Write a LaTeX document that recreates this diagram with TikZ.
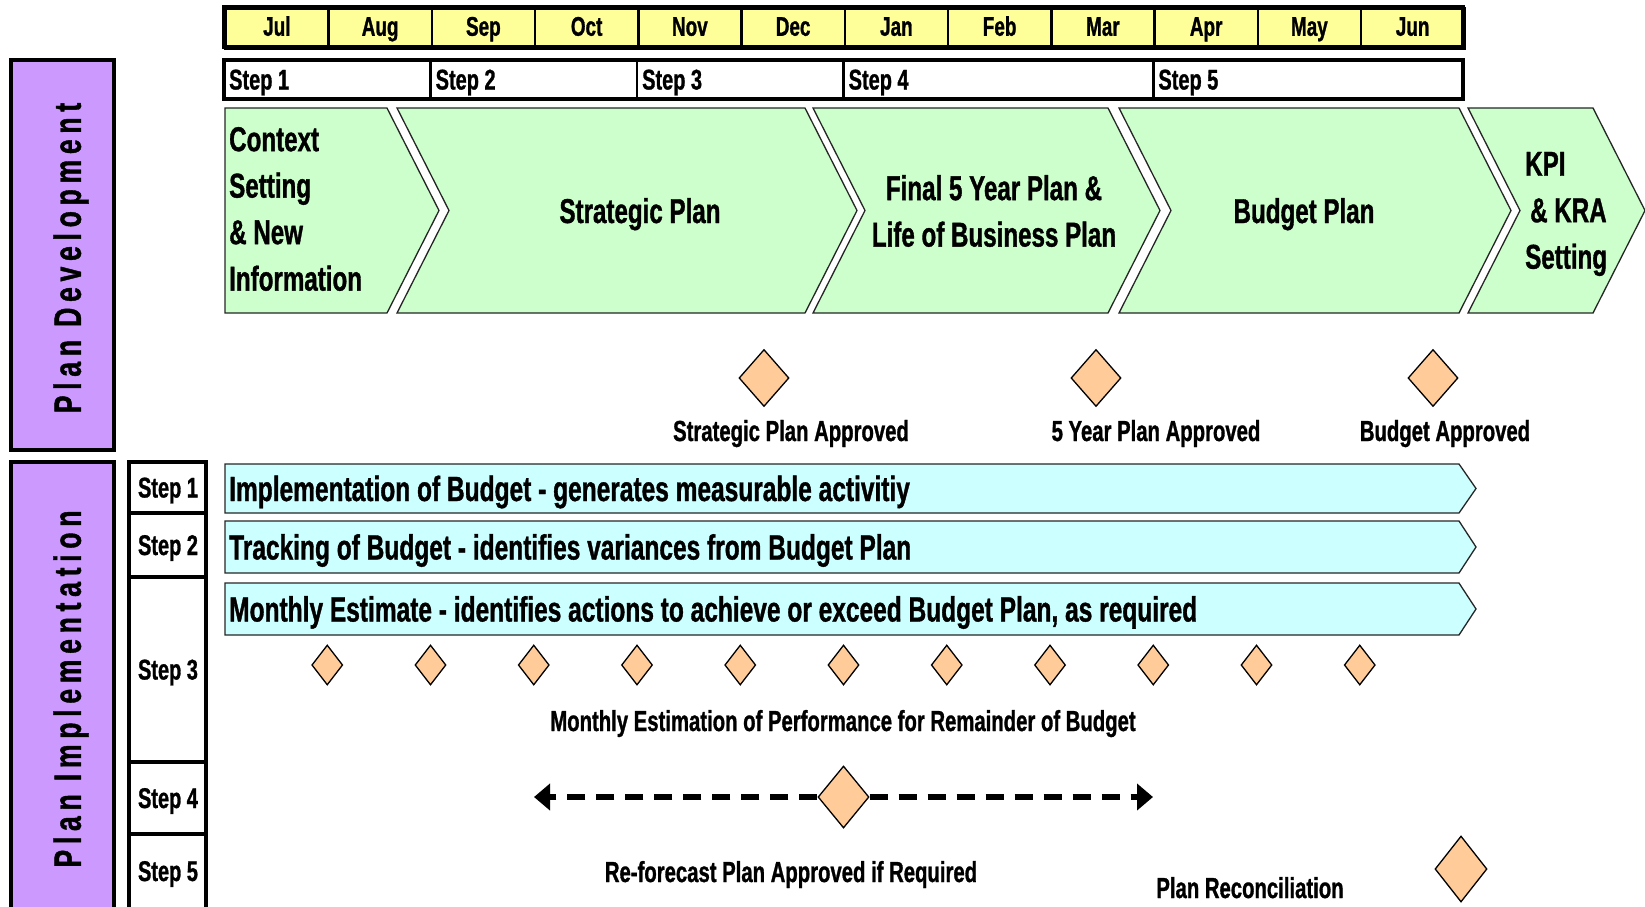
\documentclass[tikz,border=0pt]{standalone}
\usepackage{fontspec}
\setmainfont{Liberation Sans}[FakeStretch=0.7,BoldFeatures={FakeBold=1}]
\newfontfamily\sidefont{Liberation Sans}[FakeStretch=0.7,LetterSpace=15,BoldFeatures={FakeBold=1}]
\usetikzlibrary{arrows.meta,positioning,shapes.geometric,calc}
\definecolor{monthyellow}{HTML}{FFFF99}
\definecolor{chevgreen}{HTML}{CCFFCC}
\definecolor{barcyan}{HTML}{CCFFFF}
\definecolor{sidepurple}{HTML}{CC99FF}
\definecolor{gemorange}{HTML}{FFCC99}
\newcommand{\Fsize}[2]{\fontsize{#1}{#2}\selectfont\bfseries}

\begin{document}
\begin{tikzpicture}[x=1pt, y=-1pt,
    cell/.style={draw, line width=2.5pt, inner sep=0pt, anchor=north west,
      minimum width=103.25pt, minimum height=40pt, text height=15pt, text depth=0pt,
      font=\Fsize{27}{32}},
    sidebox/.style={draw, line width=3.5pt, fill=sidepurple},
    sidetext/.style={rotate=90, inner sep=0pt, font=\sidefont\Fsize{38}{40}},
    chevron/.style={draw=black!85, line width=1.3pt, fill=chevgreen},
    chevtext/.style={inner sep=0pt, align=left, font=\Fsize{34.5}{46.5}},
    bar/.style={draw=black!85, line width=1.3pt, fill=barcyan},
    bartext/.style={anchor=west, inner sep=0pt, text height=25pt, text depth=0pt,
      font=\Fsize{35}{40}},
    steptext/.style={inner sep=0pt, text height=20pt, text depth=0pt, font=\Fsize{28.5}{32}},
    gem/.style={diamond, draw, line width=1.3pt, fill=gemorange, inner sep=0pt},
    tinygem/.style={gem, minimum width=31pt, minimum height=40pt},
    biggem/.style={gem, minimum width=50pt, minimum height=57pt},
    note/.style={anchor=base, inner sep=0pt, font=\Fsize{29}{32}},
    dashlink/.style={line width=5.5pt, dash pattern=on 18pt off 11pt,
      -{Triangle[length=16pt,width=26pt]}}]
  \useasboundingbox (0,0) rectangle (1645,906);

  % months
  \foreach \m [count=\i from 0] in {Jul,Aug,Sep,Oct,Nov,Dec,Jan,Feb,Mar,Apr,May,Jun}
    \node[cell, fill=monthyellow] (month\i) at ({224+103.25*\i},7) {\m};
  \draw[line width=4pt] (224,7) rectangle (1463,47);

  % steps of plan development
  \foreach \a/\b/\st in {0/2/1,2/4/2,4/6/3,6/9/4,9/12/5} {
    \draw[line width=2.5pt] ({224+103.25*\a},60) rectangle ({224+103.25*\b},99);
    \node[steptext, anchor=west] (devStep\st) at ({229+103.25*\a},79.5) {Step \st};
  }
  \draw[line width=4pt] (224,60) rectangle (1463,99);

  % side panels
  \draw[sidebox] (11,60) rectangle (114,450);
  \draw[sidebox] (11,462) rectangle (114,930);
  \node[sidetext] (devTitle) at (71,258) {Plan Development};
  \node[sidetext] (impTitle) at (71,689) {Plan Implementation};

  % chevrons
  \draw[chevron] (225,108) -- (387,108) -- (439,210.5) -- (387,313) -- (225,313) -- cycle;
  \foreach \l/\r in {397/805,813/1108,1119/1459,1468/1593}
    \draw[chevron] (\l,108) -- (\r,108) -- ({\r+52},210.5) -- (\r,313) -- (\l,313)
      -- ({\l+52},210.5) -- cycle;
  \node[chevtext, anchor=west] (context) at (229,209) {Context\\Setting\\\& New\\Information};
  \node[chevtext, anchor=base] (strategic) at (640,223) {Strategic Plan};
  \node[chevtext, align=center] (fiveYear) at (994,211) {Final 5 Year Plan \&\\Life of Business Plan};
  \node[chevtext, anchor=base] (budgetPlan) at (1304,223) {Budget Plan};
  \node[chevtext, anchor=west] (kpi) at (1525,214) {KPI\\\hspace{5pt}\& KRA\\Setting};

  % approvals
  \node[biggem] (okStrategic) at (764,378) {};
  \node[biggem] (okFiveYear) at (1096,378) {};
  \node[biggem] (okBudget) at (1433,378) {};
  \node[note] (okStrategicText) at (791,441) {Strategic Plan Approved};
  \node[note] (okFiveYearText) at (1156,441) {5 Year Plan Approved};
  \node[note] (okBudgetText) at (1445,441) {Budget Approved};

  % steps of plan implementation
  \foreach \t/\b in {462/513,513/577,577/762,762/834,834/930}
    \draw[line width=3.5pt] (129,\t) rectangle (206,\b);
  \foreach \y [count=\st] in {487.5,545,669.5,798,871}
    \node[steptext] (impStep\st) at (168,\y) {Step \st};

  \foreach \t/\b in {464/513,521/573,583/635}
    \draw[bar] (225,\t) -- (1459,\t) -- (1476,{(\t+\b)/2}) -- (1459,\b) -- (225,\b) -- cycle;
  \node[bartext] (implement) at (229,488.5) {Implementation of Budget - generates measurable activitiy};
  \node[bartext] (tracking) at (229,547) {Tracking of Budget - identifies variances from Budget Plan};
  \node[bartext] (estimate) at (229,609) {Monthly Estimate - identifies actions to achieve or exceed Budget Plan, as required};

  % monthly estimates
  \foreach \k in {1,...,11}
    \node[tinygem] (est\k) at ({224+103.25*\k},665) {};
  \node[note] (estText) at (843,731) {Monthly Estimation of Performance for Remainder of Budget};

  % re-forecast
  \node[gem, minimum width=51pt, minimum height=62pt] (reforecast) at (843.5,797) {};
  \coordinate (rfLeft) at (534,797);
  \coordinate (rfRight) at (1153,797);
  \draw[dashlink] (reforecast.west) -- (rfLeft);
  \draw[dashlink] (reforecast.east) -- (rfRight);
  \node[note] (reforecastText) at (791,882) {Re-forecast Plan Approved if Required};

  % reconciliation
  \node[gem, minimum width=52pt, minimum height=66pt] (reconcile) at (1461,869) {};
  \node[note] (reconcileText) at (1250,898) {Plan Reconciliation};
\end{tikzpicture}
\end{document}
